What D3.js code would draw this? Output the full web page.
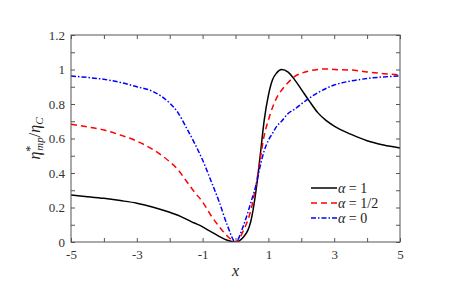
<!DOCTYPE html>
<html>
<head>
<meta charset="utf-8">
<script src="https://cdn.jsdelivr.net/npm/d3@7"></script>
<style>
  body { margin: 0; background: #fff; }
  svg, svg text, svg tspan { font-family: "Liberation Serif", "DejaVu Serif", "Noto Serif", serif !important; }
</style>
</head>
<body>
<div id="chart"></div>
<script>
// values
var xs = [-5, -4.5, -4, -3.5, -3, -2.5, -2, -1.75, -1.5, -1.25, -1, -0.75, -0.5, -0.25, 0,
  0.25, 0.5, 0.625, 0.75, 0.875, 1, 1.125, 1.25, 1.4, 1.6, 1.8, 2, 2.25, 2.5, 2.75, 3, 3.5, 4, 4.5, 5];
var alpha1 = [0.272, 0.263, 0.253, 0.24, 0.225, 0.202, 0.172, 0.155, 0.133, 0.11, 0.088, 0.06, 0.033, 0.01, 0,
  0.03, 0.15, 0.30, 0.50, 0.71, 0.85, 0.94, 0.98, 1.0, 0.985, 0.94, 0.885, 0.815, 0.75, 0.705, 0.672, 0.625, 0.587, 0.562, 0.545];
var alphaHalf = [0.682, 0.667, 0.649, 0.62, 0.585, 0.535, 0.465, 0.42, 0.355, 0.29, 0.232, 0.155, 0.09, 0.035, 0,
  0.07, 0.21, 0.33, 0.48, 0.62, 0.707, 0.78, 0.835, 0.88, 0.925, 0.96, 0.978, 0.992, 1.0, 1.003, 1.0, 0.997, 0.986, 0.976, 0.968];
var alpha0 = [0.962, 0.954, 0.943, 0.925, 0.90, 0.872, 0.805, 0.75, 0.665, 0.575, 0.475, 0.357, 0.235, 0.098, 0,
  0.1, 0.25, 0.33, 0.44, 0.53, 0.59, 0.63, 0.67, 0.70, 0.745, 0.77, 0.80, 0.835, 0.865, 0.89, 0.91, 0.933, 0.948, 0.957, 0.962];
var xTicks = [-5, -4, -3, -2, -1, 0, 1, 2, 3, 4, 5];
var xLabels = [-5, -3, -1, 1, 3, 5];
var yTicks = [0, 0.1, 0.2, 0.3, 0.4, 0.5, 0.6, 0.7, 0.8, 0.9, 1, 1.1, 1.2];
var yLabels = [0, 0.2, 0.4, 0.6, 0.8, 1, 1.2];
var legendNames = ["α = 1", "α = 1/2", "α = 0"];

var width = 471, height = 295;
var margin_left = 71, margin_right = 71, margin_top = 35, margin_bottom = 53;

var svg = d3.select("#chart").append("svg")
  .attr("width", width)
  .attr("height", height);

var x = d3.scaleLinear().domain([-5, 5]).range([margin_left, width - margin_right]);
var y = d3.scaleLinear().domain([0, 1.2]).range([height - margin_bottom, margin_top]);

// Curves
var series = [
  {vals: alpha1, color: "#000", dash: null},
  {vals: alphaHalf, color: "#ff0000", dash: "6,4"},
  {vals: alpha0, color: "#0000ff", dash: "5,2,1.5,2"}
];
svg.append("clipPath").attr("id", "clip").append("rect")
  .attr("x", x(-5)).attr("y", y(1.2))
  .attr("width", x(5) - x(-5)).attr("height", y(0) - y(1.2));

var plot = svg.append("g").attr("clip-path", "url(#clip)");
series.forEach(function(s) {
  plot.append("path")
    .attr("fill", "none")
    .attr("stroke", s.color)
    .attr("stroke-width", 1.5)
    .attr("stroke-dasharray", s.dash)
    .attr("d", d3.line()
      .curve(d3.curveMonotoneX)
      .x(function(d, i) { return x(xs[i]); })
      .y(function(d) { return y(d); })
      (s.vals));
});

// Axes (box with inward ticks on all sides)
var axisColor = "#555";
function styleAxis(g) {
  g.attr("font-family", null).attr("font-size", 13);
  g.select(".domain").remove();
  g.selectAll(".tick line").attr("stroke", axisColor);
  g.selectAll(".tick text").attr("fill", "#333");
}
svg.append("g")
  .attr("transform", "translate(0," + y(0) + ")")
  .call(d3.axisBottom(x).tickValues(xTicks).tickSizeInner(-4).tickSizeOuter(0).tickPadding(8)
    .tickFormat(function(d) { return xLabels.indexOf(d) >= 0 ? d : ""; }))
  .call(styleAxis);
svg.append("g")
  .attr("transform", "translate(0," + y(1.2) + ")")
  .call(d3.axisTop(x).tickValues(xTicks).tickSizeInner(-4).tickSizeOuter(0).tickFormat(""))
  .call(styleAxis);
svg.append("g")
  .attr("transform", "translate(" + x(-5) + ",0)")
  .call(d3.axisLeft(y).tickValues(yTicks).tickSizeInner(-4).tickSizeOuter(0).tickPadding(6)
    .tickFormat(function(d) { return yLabels.some(function(v) { return Math.abs(v - d) < 1e-9; }) ? d3.format("~g")(d) : ""; }))
  .call(styleAxis);
svg.append("g")
  .attr("transform", "translate(" + x(5) + ",0)")
  .call(d3.axisRight(y).tickValues(yTicks).tickSizeInner(-4).tickSizeOuter(0).tickFormat(""))
  .call(styleAxis);

svg.append("rect")
  .attr("x", x(-5)).attr("y", y(1.2))
  .attr("width", x(5) - x(-5)).attr("height", y(0) - y(1.2))
  .attr("fill", "none").attr("stroke", axisColor).attr("stroke-width", 1);

// Axis titles
svg.append("text")
  .attr("x", x(0)).attr("y", 276)
  .attr("text-anchor", "middle")
  .attr("font-size", 16).attr("font-style", "italic")
  .attr("fill", "#222")
  .text("x");

var ytitle = svg.append("text")
  .attr("transform", "translate(40," + ((y(0) + y(1.2)) / 2) + ") rotate(-90)")
  .attr("text-anchor", "middle")
  .attr("fill", "#222")
  .attr("font-size", 16);
ytitle.append("tspan").attr("font-style", "italic").text("η");
ytitle.append("tspan").attr("dy", -6).attr("font-size", 12).text("*");
ytitle.append("tspan").attr("dy", 9).attr("dx", -5).attr("font-size", 11).attr("font-style", "italic").text("mp");
ytitle.append("tspan").attr("dy", -3).text("/");
ytitle.append("tspan").attr("font-style", "italic").text("η");
ytitle.append("tspan").attr("dy", 3).attr("font-size", 11).attr("font-style", "italic").text("C");

// Legend
var legend = svg.append("g").attr("transform", "translate(311,188)");
series.forEach(function(s, i) {
  var row = legend.append("g").attr("transform", "translate(0," + (i * 15) + ")");
  row.append("line")
    .attr("x1", 0).attr("x2", 26).attr("y1", 0).attr("y2", 0)
    .attr("stroke", s.color).attr("stroke-width", 1.5)
    .attr("stroke-dasharray", s.dash);
  var t = row.append("text").attr("x", 27).attr("y", 4.5).attr("fill", "#222").attr("font-size", 14);
  var parts = legendNames[i].split(" = ");
  t.append("tspan").attr("font-style", "italic").text(parts[0]);
  t.append("tspan").text(" = " + parts[1]);
});
</script>
</body>
</html>
